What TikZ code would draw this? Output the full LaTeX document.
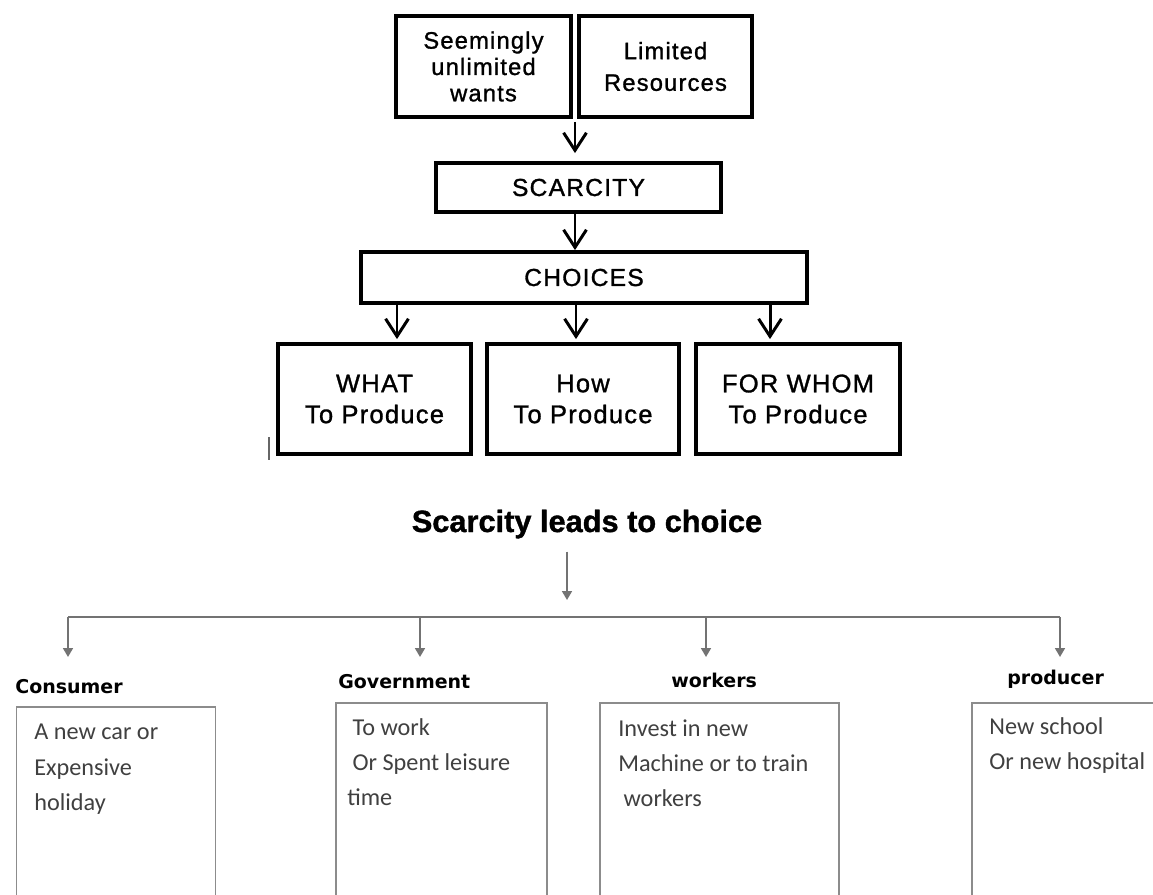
\documentclass[tikz,border=0pt]{standalone}
\usepackage{fontspec}
\setmainfont{Liberation Sans}
\newfontfamily\topfont[LetterSpace=5,FakeBold=1.2]{Liberation Sans}
\newfontfamily\titlefont[FakeBold=1.2]{Liberation Sans}
\newfontfamily\calib{Carlito}
\newfontfamily\labfont{DejaVu Sans}
\usetikzlibrary{arrows.meta}
\newdimen\pxu \pxu=0.02cm
\begin{document}
\begin{tikzpicture}[x=0.02cm,y=-0.02cm,
  topbox/.style={draw, line width=2.2pt, inner sep=0pt, align=center},
  tf/.style={font=\topfont\fontsize{13.5}{#1}\selectfont},
  toparrow/.style={line width=1.7pt, -{Straight Barb[length=10pt,width=13pt]}},
  lowbox/.style={draw=black!45, line width=0.9pt, inner sep=0pt},
  lowline/.style={draw=black!55, line width=1.1pt},
  lowarrow/.style={lowline, -{Triangle[length=5pt,width=5.5pt]}},
  lbl/.style={anchor=base west, inner sep=0pt, font=\labfont\bfseries\fontsize{10.8}{13}\selectfont},
  btext/.style={anchor=north west, align=left, inner sep=0pt, text=black!75, font=\calib\fontsize{13.8}{20}\selectfont}]
\useasboundingbox (0,0) rectangle (1153,894);
\clip (0,0) rectangle (1153,894);
\fill[white] (0,0) rectangle (1153,894);
% ---------- top diagram ----------
\node[topbox, tf=15, minimum width=175\pxu, minimum height=101\pxu] (want) at (483.5,66.5) {Seemingly\\unlimited\\wants};
\node[topbox, tf=18, minimum width=173\pxu, minimum height=101\pxu] (limited) at (665.5,66.5) {Limited\\Resources};
\node[topbox, font=\topfont\fontsize{14}{16}\selectfont, minimum width=285\pxu, minimum height=49\pxu] (scar) at (578.5,187.5) {SCARCITY};
\node[topbox, font=\topfont\fontsize{14}{16}\selectfont, minimum width=446\pxu, minimum height=51\pxu] (choices) at (584,277.5) {CHOICES};
\node[topbox, font=\topfont\fontsize{14.5}{17.6}\selectfont, minimum width=193\pxu, minimum height=110\pxu] (what) at (374.5,399) {WHAT\\To Produce};
\node[topbox, font=\topfont\fontsize{14.5}{17.6}\selectfont, minimum width=192\pxu, minimum height=110\pxu] (how) at (583,399) {How\\To Produce};
\node[topbox, font=\topfont\fontsize{14.5}{17.6}\selectfont, minimum width=204\pxu, minimum height=110\pxu] (whom) at (798,399) {FOR WHOM\\To Produce};
\coordinate (a0) at ([xshift=-3.5\pxu]scar.north);
\draw[toparrow] (a0 |- want.south) ++(0,3) -- ([yshift=8\pxu]a0);
\coordinate (a1) at ([xshift=-3.5\pxu]scar.south);
\draw[toparrow] (a1) -- (a1 |- choices.north) ;
\coordinate (w1) at ([xshift=22.5\pxu]what.north);
\coordinate (w2) at ([xshift=-7\pxu]how.north);
\coordinate (w3) at ([xshift=-28\pxu]whom.north);
\foreach \c in {w1,w2,w3}
  \draw[toparrow] (\c |- choices.south) -- ([yshift=3\pxu]\c);
\draw[line width=0.8pt, black!60] (269,437) -- (269,460);
% ---------- lower diagram ----------
\node[anchor=base, inner sep=0pt, font=\titlefont\bfseries\fontsize{17.5}{20}\selectfont] (title) at (587,532) {Scarcity leads to choice};
\coordinate (hub) at (567,617);
\coordinate (hl) at (68,617);
\coordinate (hg) at (420,617);
\coordinate (hw) at (706,617);
\coordinate (hr) at (1060,617);
\draw[lowarrow] (hub |- title.south) ++(0,13) -- ([yshift=17\pxu]hub);
\draw[lowline] (hl) -- (hr);
\foreach \c in {hl,hg,hw,hr}
  \draw[lowarrow] (\c) -- ++(0,40);
\node[lbl] (lcons) at (15,693) {Consumer};
\node[lbl] (lgov) at (338,688) {Government};
\node[lbl] (lwork) at (671,687) {workers};
\node[lbl] (lprod) at (1007,684) {producer};
\node[lowbox, minimum width=199\pxu, minimum height=223\pxu] (bcons) at (116,818.5) {};
\node[lowbox, minimum width=211\pxu, minimum height=227\pxu] (bgov) at (441.5,816.5) {};
\node[lowbox, minimum width=239\pxu, minimum height=227\pxu] (bwork) at (719.5,816.5) {};
\node[lowbox, minimum width=200\pxu, minimum height=227\pxu] (bprod) at (1072,816.5) {};
\node[btext] (tcons) at (34,724) {A new car or\\Expensive\\holiday};
\node[btext] (tgov) at (347,718) {\hspace{3pt}To work\\\hspace{3pt}Or Spent leisure\\time};
\node[btext] (twork) at (618,719) {Invest in new\\Machine or to train\\\hspace{3pt}workers};
\node[btext] (tprod) at (989,717) {New school\\Or new hospital};
\end{tikzpicture}
\end{document}
